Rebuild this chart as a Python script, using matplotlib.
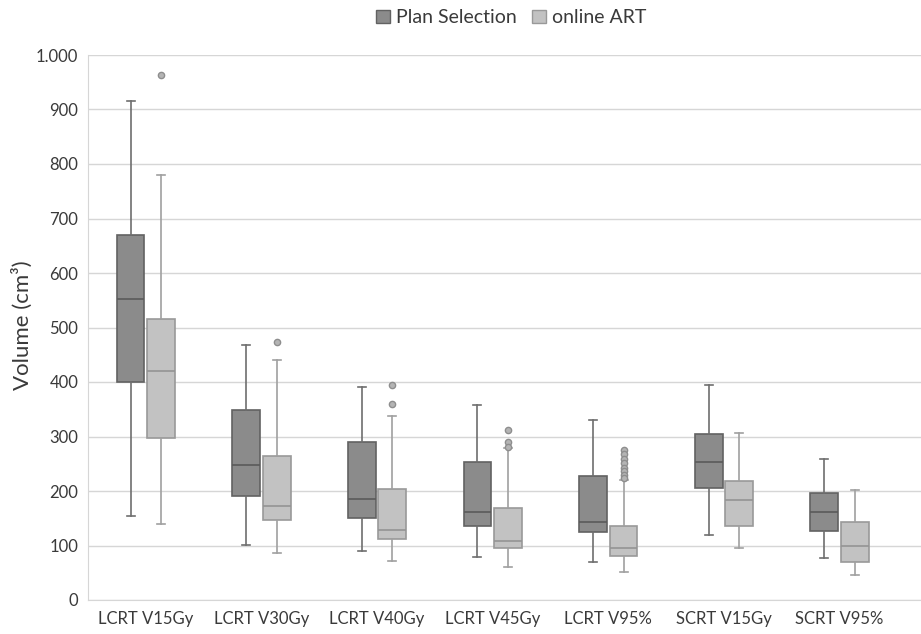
import matplotlib
matplotlib.use('Agg')
import matplotlib.pyplot as plt
from matplotlib.patches import Patch
from matplotlib.ticker import FuncFormatter

# Dose-volume parameters per category
categories = ['LCRT V15Gy', 'LCRT V30Gy', 'LCRT V40Gy', 'LCRT V45Gy',
              'LCRT V95%', 'SCRT V15Gy', 'SCRT V95%']

# Plan Selection box statistics (cm³)
plan_whislo = [154, 101, 90, 79, 70, 120, 77]
plan_q1 = [400, 190, 150, 135, 125, 206, 127]
plan_med = [552, 248, 185, 161, 143, 253, 161]
plan_q3 = [670, 348, 289, 253, 228, 304, 196]
plan_whishi = [916, 468, 391, 357, 331, 395, 259]
plan_fliers = [[], [], [], [], [], [], []]

# online ART box statistics (cm³)
online_whislo = [140, 86, 72, 61, 52, 96, 46]
online_q1 = [297, 146, 112, 95, 81, 136, 69]
online_med = [420, 173, 129, 108, 95, 183, 100]
online_q3 = [515, 265, 204, 168, 136, 218, 143]
online_whishi = [780, 440, 337, 278, 220, 306, 202]
online_fliers = [[963], [473], [394, 359], [312, 289, 281],
                 [275, 267, 259, 251, 243, 236, 229, 223], [], []]

y_ticks = [0, 100, 200, 300, 400, 500, 600, 700, 800, 900, 1000]

plt.rcParams['font.family'] = ['Lato', 'DejaVu Sans']
text_col = '#3a3a3a'


def make_stats(lo, q1, med, q3, hi, fl):
    return [dict(whislo=a, q1=b, med=c, q3=d, whishi=e, fliers=f)
            for a, b, c, d, e, f in zip(lo, q1, med, q3, hi, fl)]


def style(fill, edge, medc, whisk):
    return dict(
        boxprops=dict(facecolor=fill, edgecolor=edge, linewidth=1.2),
        medianprops=dict(color=medc, linewidth=1.2),
        whiskerprops=dict(color=whisk, linewidth=1.2),
        capprops=dict(color=whisk, linewidth=1.2),
        flierprops=dict(marker='o', markersize=4.5, markerfacecolor='#b4b4b4',
                        markeredgecolor='#8e8e8e', markeredgewidth=1.0),
    )


fig = plt.figure(figsize=(9.21, 6.34), dpi=100)
ax = fig.add_axes([88 / 921, 1 - 600 / 634, 1 - 88 / 921, (600 - 55) / 634])

pos = list(range(len(categories)))
off = 0.132
w = 0.24

ax.bxp(make_stats(plan_whislo, plan_q1, plan_med, plan_q3, plan_whishi, plan_fliers),
       positions=[p - off for p in pos], widths=w, patch_artist=True,
       showfliers=True, capwidths=0.07,
       **style('#8b8b8b', '#626262', '#5a5a5a', '#6e6e6e'))
ax.bxp(make_stats(online_whislo, online_q1, online_med, online_q3, online_whishi, online_fliers),
       positions=[p + off for p in pos], widths=w, patch_artist=True,
       showfliers=True, capwidths=0.07,
       **style('#c2c2c2', '#999999', '#949494', '#a0a0a0'))

ax.set_xlim(-0.5, (921 - 146) / 115.6)
ax.set_ylim(0, 1000)
ax.set_yticks(y_ticks)
ax.yaxis.set_major_formatter(FuncFormatter(lambda v, _: f'{v:,.0f}'.replace(',', '.')))
ax.set_xticks(pos)
ax.set_xticklabels(categories)

ax.grid(axis='y', color='#d6d6d6', linewidth=1.0)
ax.set_axisbelow(True)
for s in ['top', 'right']:
    ax.spines[s].set_visible(False)
ax.spines['left'].set_color('#d6d6d6')
ax.spines['bottom'].set_color('#d6d6d6')
ax.tick_params(axis='both', length=0, labelsize=12, colors=text_col)
ax.tick_params(axis='y', pad=7)
ax.tick_params(axis='x', pad=8)

# y label placed by hand, left of the tick labels
fig.text(22 / 921, 1 - 325 / 634, 'Volume (cm³)', rotation=90, fontsize=16,
         color=text_col, ha='center', va='center')

handles = [Patch(facecolor='#8b8b8b', edgecolor='#626262', label='Plan Selection'),
           Patch(facecolor='#c2c2c2', edgecolor='#999999', label='online ART')]
fig.legend(handles=handles, loc='center', bbox_to_anchor=(0.555, 0.972), ncol=2,
           frameon=False, fontsize=14, handlelength=0.7, handleheight=0.7,
           handletextpad=0.3, columnspacing=0.8, labelcolor=text_col)

fig.savefig('out.png', dpi=100)
